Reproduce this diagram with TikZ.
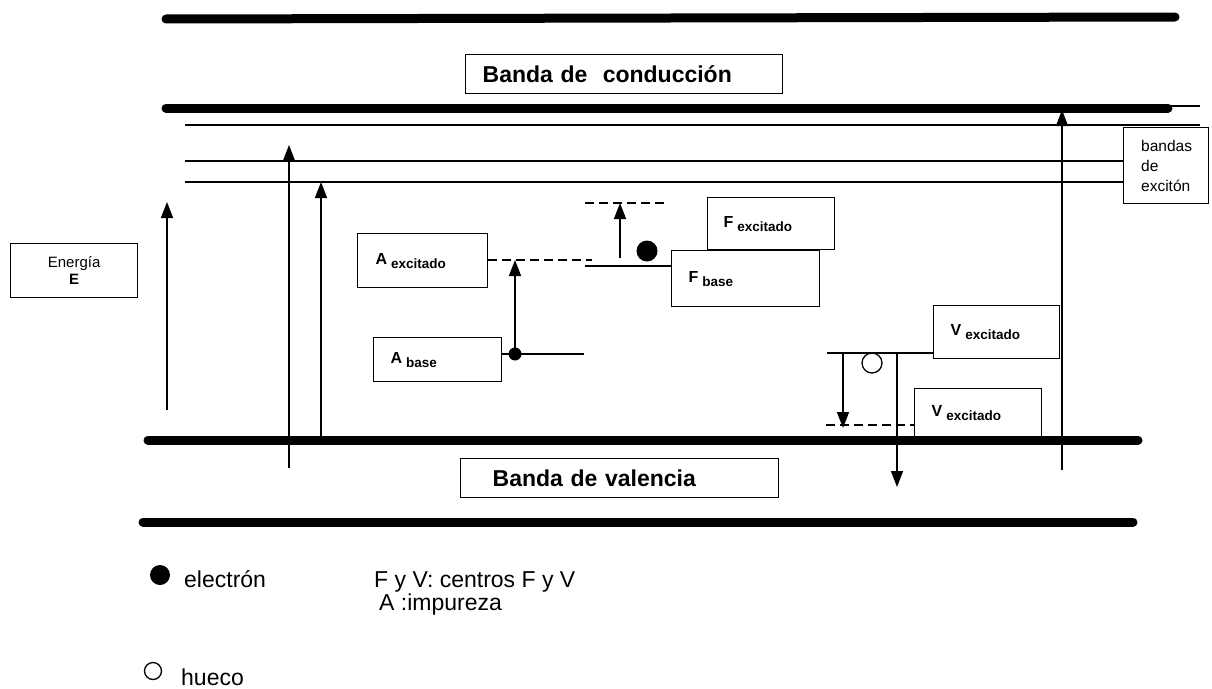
\documentclass[tikz,border=0pt]{standalone}
\usepackage{fontspec}
\setmainfont{Liberation Sans}
\usetikzlibrary{arrows.meta}
\newcommand\statelbl[2]{{\fontsize{16}{18}\selectfont\bfseries #1}\hspace{4pt}{\fontsize{13.5}{15}\selectfont\bfseries\raisebox{-4pt}{#2}}}
\begin{document}
\begin{tikzpicture}[x=1pt,y=-1pt,
  band/.style={line width=9pt, line cap=round},
  lvl/.style={line width=1.6pt},
  dlvl/.style={line width=1.6pt, dash pattern=on 9pt off 5pt},
  box/.style={draw, fill=white, line width=1.3pt, inner ysep=0pt, align=left, anchor=north west},
  arr/.style={line width=1.5pt, -{Triangle[width=12pt,length=16pt]}},
  dot/.style={circle, fill=black, inner sep=0pt},
  hole/.style={circle, draw, line width=1.3pt, fill=white, inner sep=0pt},
  legend/.style={font=\fontsize{23}{24}\selectfont, anchor=base west, inner sep=0pt},
]
\useasboundingbox (0,0) rectangle (1212,688);

% ---------- bands ----------
\coordinate (cb1) at (166,19);   \coordinate (cb2) at (1175,17);
\coordinate (cl1) at (166,108);  \coordinate (cl2) at (1168,108);
\coordinate (ce1) at (1168,106); \coordinate (ce2) at (1200,106);
\coordinate (x1a) at (185,125);  \coordinate (x1b) at (1200,125);
\coordinate (x2a) at (185,161);
\coordinate (x3a) at (185,182);
\coordinate (vb1) at (148,440);  \coordinate (vb2) at (1138,440);
\coordinate (vl1) at (143,522);  \coordinate (vl2) at (1133,522);

\draw[band] (cb1) -- (cb2);
\draw[band] (cl1) -- (cl2);
\draw[lvl] (ce1) -- (ce2);
\draw[lvl] (x1a) -- (x1b);

% ---------- boxes ----------
\node[box, minimum width=317pt, minimum height=39pt, text width=283pt, inner xsep=17pt,
      font=\fontsize{23}{26}\selectfont\bfseries] (cond) at (465,54) {Banda de\ \ conducción};
\node[box, minimum width=318pt, minimum height=39pt, text width=254pt, inner xsep=32pt,
      font=\fontsize{23}{26}\selectfont\bfseries] (val) at (460,458) {Banda de valencia};
\node[box, minimum width=127pt, minimum height=54pt, text width=117pt, inner xsep=5pt, align=center,
      font=\fontsize{15}{17}\selectfont] (en) at (10,243) {Energía\\\textbf{E}};
\node[box, minimum width=85pt, minimum height=76pt, text width=60pt, inner xsep=12pt,
      font=\fontsize{15.5}{20}\selectfont] (bx) at (1123,127) {\hspace{5pt}bandas\\\hspace{5pt}de\\\hspace{5pt}excitón};

\draw[lvl] (x2a) -- (x2a -| bx.west);
\draw[lvl] (x3a) -- (x3a -| bx.west);

\node[box, minimum width=130pt, minimum height=54pt, text width=94pt, inner xsep=18pt] (aex) at (357,233) {\statelbl{A}{excitado}};
\node[box, minimum width=128pt, minimum height=44pt, text width=94pt, inner xsep=17pt] (aba) at (373,337) {\statelbl{A}{base}};
\node[box, minimum width=127pt, minimum height=52pt, text width=95pt, inner xsep=16pt] (fex) at (707,197) {\statelbl{F}{excitado}};
\node[box, minimum width=148pt, minimum height=56pt, text width=114pt, inner xsep=17pt] (fba) at (671,250) {\statelbl{F}{base}};
\node[box, minimum width=126pt, minimum height=53pt, text width=92pt, inner xsep=17pt] (vex1) at (933,305) {\statelbl{V}{excitado}};
\node[box, minimum width=127pt, minimum height=49pt, text width=93pt, inner xsep=17pt] (vex2) at (914,388) {\statelbl{V}{excitado}};

% ---------- impurity A ----------
\coordinate (aexR) at (592,260);
\coordinate (abaR) at (584,354);
\coordinate (aup1) at (515,354);
\coordinate (aup2) at (515,260);
\draw[dlvl] (aex.east |- aexR) -- (aexR);
\draw[lvl] (aba.east |- abaR) -- (abaR);
\draw[arr] (aup1) -- (aup2);
\node[dot, minimum size=13pt] (ae) at (515,354) {};

% ---------- F centre ----------
\coordinate (fexL) at (585,203); \coordinate (fexR) at (668,203);
\coordinate (fbaL) at (585,266);
\coordinate (fup1) at (620,258); \coordinate (fup2) at (620,203);
\draw[dlvl] (fexL) -- (fexR);
\draw[lvl] (fbaL) -- (fbaL -| fba.west);
\draw[arr] (fup1) -- (fup2);
\node[dot, minimum size=21pt] (fe) at (647,251) {};

% ---------- V centre ----------
\coordinate (vL) at (827,353);
\coordinate (vdL) at (826,425);
\coordinate (vd1) at (843,353); \coordinate (vd2) at (843,428);
\coordinate (vv1) at (897,353); \coordinate (vv2) at (897,487);
\draw[lvl] (vL) -- (vL -| vex1.west);
\draw[dlvl] (vdL) -- (vdL -| vex2.west);
\draw[arr] (vd1) -- (vd2);
\draw[arr] (vv1) -- (vv2);
\node[hole, minimum size=20pt] (vh) at (872,363) {};

% ---------- valence band ----------
\draw[band] (vb1) -- (vb2);
\draw[band] (vl1) -- (vl2);

% ---------- long arrows ----------
\coordinate (e1) at (167,410);  \coordinate (e2) at (167,202);
\coordinate (p1) at (289,468);  \coordinate (p2) at (289,145);
\coordinate (q1) at (321,436);  \coordinate (q2) at (321,182);
\coordinate (r1) at (1062,470); \coordinate (r2) at (1062,110);
\draw[arr] (e1) -- (e2);
\draw[arr] (p1) -- (p2);
\draw[arr] (q1) -- (q2);
\draw[arr] (r1) -- (r2);

% ---------- legend ----------
\node[dot, minimum size=20pt] (le) at (160,575) {};
\node[legend] (let) at (184,587) {electrón};
\node[legend] (lfv) at (374,587) {F y V: centros F y V};
\node[legend] (lai) at (379,610) {A :impureza};
\node[hole, minimum size=17pt] (lh) at (153,671) {};
\node[legend] (lht) at (181,685) {hueco};
\end{tikzpicture}
\end{document}
